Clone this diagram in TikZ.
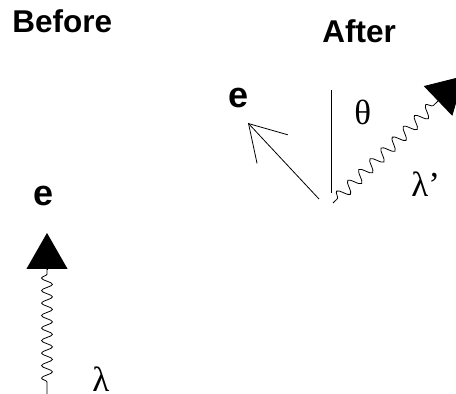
\documentclass[tikz,border=0pt]{standalone}
\usepackage{fontspec}
\setmainfont{Liberation Sans}
\newfontfamily\greekfont{Liberation Serif}
\usetikzlibrary{arrows.meta,decorations.pathmorphing}
\begin{document}
\begin{tikzpicture}[x=1pt,y=1pt,line width=0.8pt,
  title/.style={font=\fontsize{31.5}{31.5}\selectfont\bfseries,inner sep=0,anchor=base west},
  elabel/.style={font=\fontsize{36}{36}\selectfont\bfseries,inner sep=0,anchor=base west},
  greek/.style={font=\fontsize{35}{35}\selectfont\greekfont,inner sep=0,anchor=base west},
  photon/.style={decorate,decoration={snake,amplitude=5.5pt,segment length=#1,pre length=17pt}},
  head/.style={-{Triangle[length=36pt,width=41pt]}}]
 \useasboundingbox (0,0) rectangle (456,394);
 \clip (0,0) rectangle (456,394);
 % before
 \node[title] (before) at (12,361) {Before};
 \node[elabel] (e1) at (33,188) {e};
 \coordinate (inTail) at (47,-5);
 \coordinate (inBase) at (47,125);
 \coordinate (inTip) at (47,161);
 \draw[photon=12.5pt] (inTail) -- (inBase);
 \draw[head] (inBase) -- (inTip);
 \node[greek] (lam) at (92,2) {λ};
 % after
 \node[title] (after) at (322,351) {After};
 \node[elabel] (e2) at (228,286) {e};
 \coordinate (vertop) at (331,304);
 \coordinate (verbot) at (331,201);
 \draw (verbot) -- (vertop);
 \node[greek] (theta) at (354,269) {θ};
 \coordinate (eTail) at (319,195);
 \coordinate (eTip) at (248,271);
 \draw[-{Straight Barb[length=35pt,width=42pt]}] (eTail) -- (eTip);
 \coordinate (outTail) at (333,191);
 \coordinate (outBase) at (438,293);
 \coordinate (outTip) at (464,318);
 \draw[photon=15.5pt,decoration={pre length=6pt,amplitude=6pt}] (outTail) -- (outBase);
 \draw[head] (outBase) -- (outTip);
 \node[greek] (lam2) at (411,197) {λ’};
\end{tikzpicture}
\end{document}
